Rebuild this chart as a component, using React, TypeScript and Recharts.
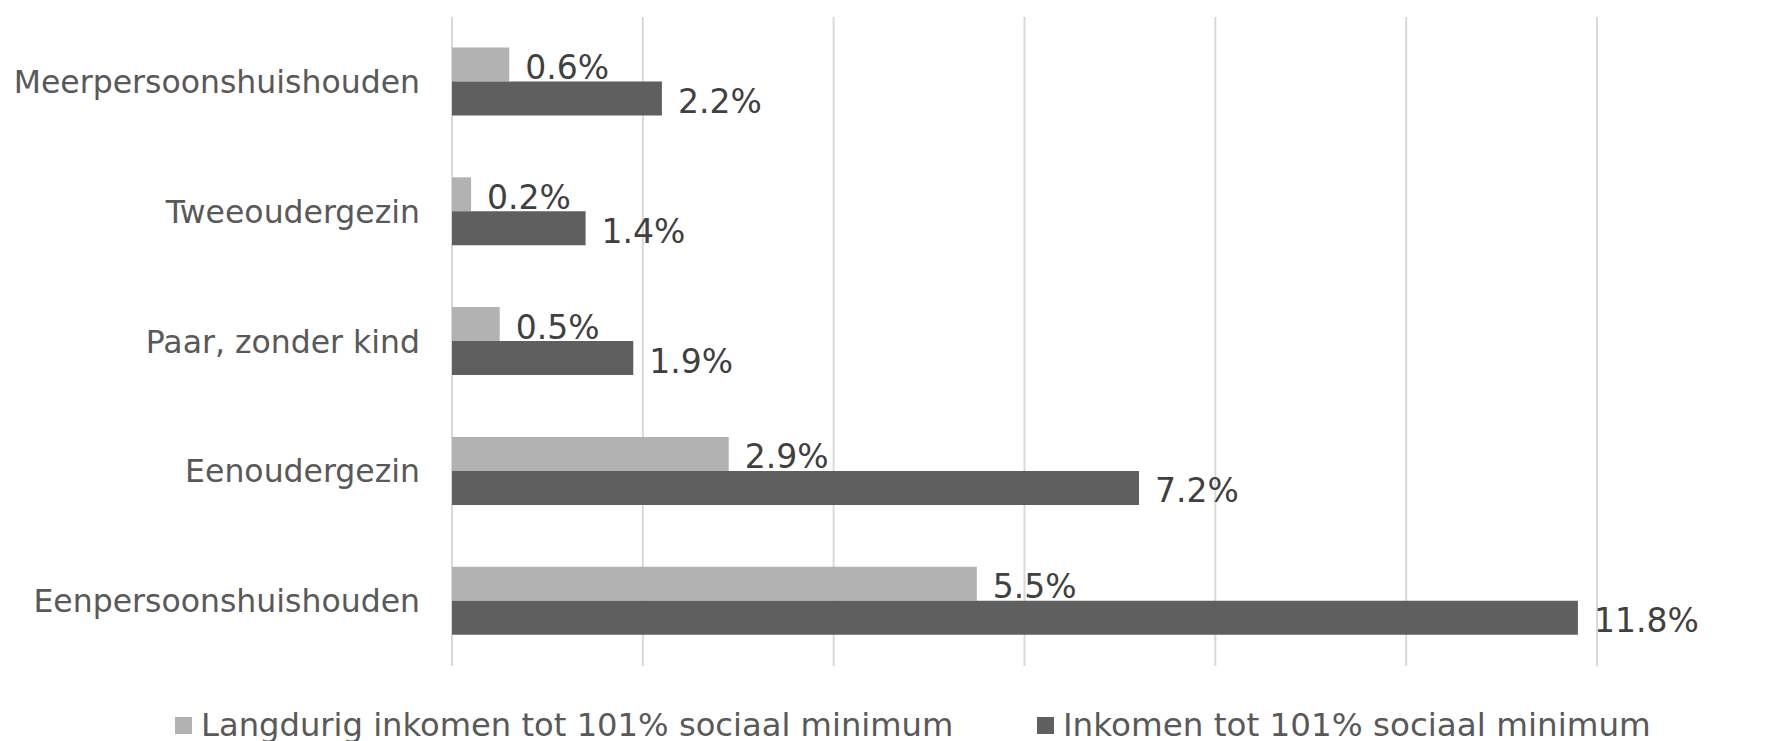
import { BarChart, Bar, XAxis, YAxis, CartesianGrid, Legend, LabelList } from 'recharts';

const categories = [
  'Meerpersoonshuishouden',
  'Tweeoudergezin',
  'Paar, zonder kind',
  'Eenoudergezin',
  'Eenpersoonshuishouden',
];
const langdurig = [0.6, 0.2, 0.5, 2.9, 5.5];
const inkomen = [2.2, 1.4, 1.9, 7.2, 11.8];
const xTicks = [0, 2, 4, 6, 8, 10, 12];

const seriesNames = ['Langdurig inkomen tot 101% sociaal minimum', 'Inkomen tot 101% sociaal minimum'];
const seriesColors = ['#b2b2b2', '#5f5f5f'];

const FONT = '"DejaVu Sans", Verdana, sans-serif';

const data = categories.map((name, i) => ({
  name,
  langdurig: langdurig[i],
  inkomen: inkomen[i],
}));

function ValueLabel(props: any) {
  const { x, y, width, height, value } = props;
  return (
    <text
      x={x + width + 16}
      y={y + height / 2 + 3}
      fill="#404040"
      fontSize={33}
      fontFamily={FONT}
      dominantBaseline="central"
    >
      {`${Number(value).toFixed(1)}%`}
    </text>
  );
}

function LegendContent() {
  return (
    <div style={{ position: 'relative', height: 34, width: 1771, fontFamily: FONT, color: '#595959' }}>
      {seriesNames.map((s, i) => (
        <div
          key={s}
          style={{
            position: 'absolute',
            left: i === 0 ? 175 : 1037,
            top: 0,
            display: 'flex',
            alignItems: 'center',
            whiteSpace: 'nowrap',
            lineHeight: '34px',
            fontSize: i === 0 ? 32.2 : 32.6,
          }}
        >
          <span style={{ display: 'inline-block', width: 17, height: 17, background: seriesColors[i], marginRight: 9 }} />
          {s}
        </div>
      ))}
    </div>
  );
}

export default function App() {
  return (
    <div style={{ position: 'absolute', left: 0, top: 0, background: '#fff' }}>
      <BarChart
        width={1771}
        height={741}
        data={data}
        layout="vertical"
        margin={{ top: 17, right: 174, bottom: 41, left: 0 }}
        barCategoryGap="23.5%"
        barGap={0}
      >
        <CartesianGrid horizontal={false} stroke="#d9d9d9" strokeWidth={2} />
        <XAxis type="number" domain={[0, 12]} ticks={xTicks} hide />
        <YAxis
          type="category"
          dataKey="name"
          width={452}
          axisLine={false}
          tickLine={false}
          tickSize={0}
          tickMargin={32}
          tick={{ fill: '#595959', fontSize: 31.5, fontFamily: FONT }}
        />
        <Legend
          verticalAlign="bottom"
          content={<LegendContent />}
          wrapperStyle={{ left: 0, top: 708, width: 1771, height: 34 }}
        />
        <Bar dataKey="langdurig" name={seriesNames[0]} fill={seriesColors[0]} isAnimationActive={false}>
          <LabelList dataKey="langdurig" content={<ValueLabel />} />
        </Bar>
        <Bar dataKey="inkomen" name={seriesNames[1]} fill={seriesColors[1]} isAnimationActive={false}>
          <LabelList dataKey="inkomen" content={<ValueLabel />} />
        </Bar>
      </BarChart>
    </div>
  );
}
